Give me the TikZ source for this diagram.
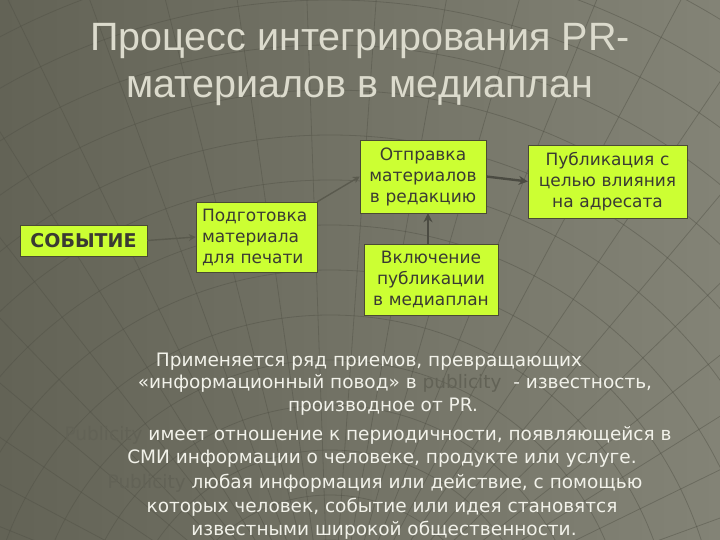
\documentclass[tikz,border=0pt]{standalone}
\usepackage{fontspec}
\setmainfont{DejaVu Sans}
\newfontfamily\titlefont{Liberation Sans}
\usetikzlibrary{arrows.meta}
\definecolor{bgleft}{HTML}{636356}
\definecolor{bgright}{HTML}{838376}
\definecolor{meshcol}{HTML}{505045}
\definecolor{titlecol}{HTML}{DCDBCD}
\definecolor{boxfill}{HTML}{CCFF33}
\definecolor{boxline}{HTML}{4A4A35}
\definecolor{boxtext}{HTML}{3A3A33}
\definecolor{arrowcol}{HTML}{4B4B42}
\definecolor{faintcol}{HTML}{5A5A4E}
\definecolor{bodytext}{HTML}{F2F2EA}
\definecolor{hidcol}{HTML}{626256}
\begin{document}
\begin{tikzpicture}[x=1pt,y=-1pt,
	box/.style={draw=boxline,fill=boxfill,text=boxtext,font=\fontsize{17}{21}\selectfont,inner xsep=6pt,inner ysep=0pt},
	arr/.style={draw=arrowcol,line width=2.4pt,-{Stealth[length=9pt,width=9pt]}},
	farr/.style={draw=faintcol,line width=1.4pt,-{Stealth[length=7pt,width=7pt]}},
	title/.style={text=titlecol,font=\titlefont\fontsize{39.5}{44}\selectfont,anchor=base,inner sep=0pt},
	body/.style={text=bodytext,font=\fontsize{18.5}{22}\selectfont,anchor=base,inner sep=0pt}]
	\useasboundingbox (0,0) rectangle (720,540);
	\shade[left color=bgleft,right color=bgright] (0,0) rectangle (720,540);
	\begin{scope}
		\clip (0,0) rectangle (720,540);
		\foreach \r in {120,165,...,900}
			\draw[meshcol,opacity=.45,line width=.8pt] (330,660) circle (\r);
		\foreach \a in {196,202,...,344}
			\draw[meshcol,opacity=.45,line width=.8pt] (330,660) -- ++(\a:950);
	\end{scope}

	\node[title] (head1) at (360,51) {Процесс интегрирования PR-};
	\node[title] (head2) at (360,98) {материалов в медиаплан};

	\node[box,minimum width=127pt,minimum height=31pt,font=\bfseries\fontsize{19}{21}\selectfont] (event) at (83.5,240.5) {СОБЫТИЕ};
	\node[box,text width=109pt,align=left,minimum height=70pt] (prep) at (256.5,237) {Подготовка\\материала\\для печати};
	\node[box,text width=114pt,align=center,minimum height=73pt] (send) at (423,176.5) {Отправка\\материалов\\в редакцию};
	\node[box,text width=147pt,align=center,minimum height=73pt] (pub) at (607.5,181.5) {Публикация с\\целью влияния\\на адресата};
	\node[box,text width=122pt,align=center,minimum height=71pt] (plan) at (431,279.5) {Включение\\публикации\\в медиаплан};

	\draw[farr] (event.east) -- (prep.west);
	\draw[farr] (prep.north east) -- (send.west);
	\draw[arr] (send.east) -- (pub.west);
	\draw[arr] ([xshift=-3pt]plan.north) -- ([xshift=-3pt]plan.north |- send.south);

	\node[body] (line1) at (369,366) {Применяется ряд приемов, превращающих};
	\node[body] (line2) at (395,388) {«информационный повод» в \textcolor{hidcol}{publicity}\ \ - известность,};
	\node[body] (line3) at (383,411) {производное от PR.};
	\node[body] (line4) at (368,440) {\textcolor{hidcol}{Publicity} имеет отношение к периодичности, появляющейся в};
	\node[body] (line5) at (382,463) {СМИ информации о человеке, продукте или услуге.};
	\node[body] (line6) at (375,488) {\textcolor{hidcol}{Publicity} любая информация или действие, с помощью};
	\node[body] (line7) at (382,512) {которых человек, событие или идея становятся};
	\node[body] (line8) at (384,535) {известными широкой общественности.};
\end{tikzpicture}
\end{document}
